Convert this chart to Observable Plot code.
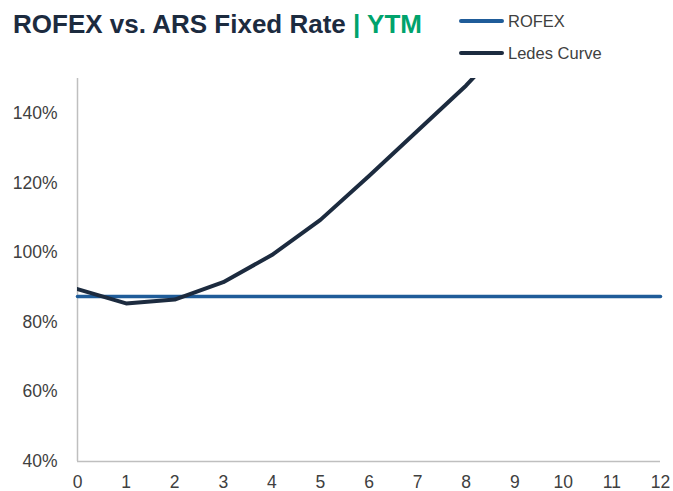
<!DOCTYPE html>
<html><head><meta charset="utf-8">
<script src="https://cdn.jsdelivr.net/npm/d3@7"></script>
<script src="https://cdn.jsdelivr.net/npm/@observablehq/plot@0.6"></script>
<style>
body{margin:0;background:#fff;font-family:"Liberation Sans",Arial,sans-serif;}
#wrap{position:relative;width:673px;height:491px;}
#title{position:absolute;left:13px;top:11px;font-size:26px;line-height:1;font-weight:bold;color:#1c2b3f;white-space:nowrap;}
#title span{color:#00a36c;}
.leg{position:absolute;left:459px;font-size:16.5px;line-height:1;color:#404040;display:flex;align-items:center;white-space:nowrap;}
.leg i{display:inline-block;width:45px;height:4px;border-radius:2px;margin-right:4px;}
</style></head>
<body><div id="wrap">
<div id="chart"></div>
<div id="title">ROFEX vs. ARS Fixed Rate <span>| YTM</span></div>
<div class="leg" style="top:13px"><i style="background:#1f5c99"></i>ROFEX</div>
<div class="leg" style="top:45px"><i style="background:#1c2b3f"></i>Ledes Curve</div>
</div>
<script>
const years = [0,1,2,3,4,5,6,7,8,9];
const ledes = [89.5,85.4,86.5,91.5,99.3,109.4,122.0,135.0,148.0,163.0];
const rofexX = [0,12];
const rofexY = [87.4,87.4];
const yTicks = [40,60,80,100,120,140];
const xTicks = [0,1,2,3,4,5,6,7,8,9,10,11,12];

const ledesData = years.map((x,i)=>({x,y:ledes[i]}));
const rofexData = rofexX.map((x,i)=>({x,y:rofexY[i]}));

const chart = Plot.plot({
  width:673, height:491,
  marginLeft:77, marginRight:13, marginTop:78, marginBottom:30,
  style:{fontFamily:"'Liberation Sans',Arial,sans-serif",fontSize:"17.5px",color:"#404040",background:"#fff"},
  x:{domain:[0,12],ticks:xTicks,tickSize:0,tickPadding:14,label:null},
  y:{domain:[40,150],ticks:yTicks,tickSize:0,tickPadding:20,label:null,tickFormat:d=>d+"%"},
  marks:[
    Plot.ruleX([0],{stroke:"#bfbfbf",strokeWidth:1.5}),
    Plot.ruleY([40],{stroke:"#bfbfbf",strokeWidth:1.5}),
    Plot.line(rofexData,{x:"x",y:"y",stroke:"#1f5c99",strokeWidth:3.5}),
    Plot.line(ledesData,{x:"x",y:"y",stroke:"#1c2b3f",strokeWidth:4,clip:true})
  ]
});
chart.querySelectorAll("text").forEach(t=>t.setAttribute("fill","#404040"));
document.getElementById("chart").appendChild(chart);
</script>
</body></html>
